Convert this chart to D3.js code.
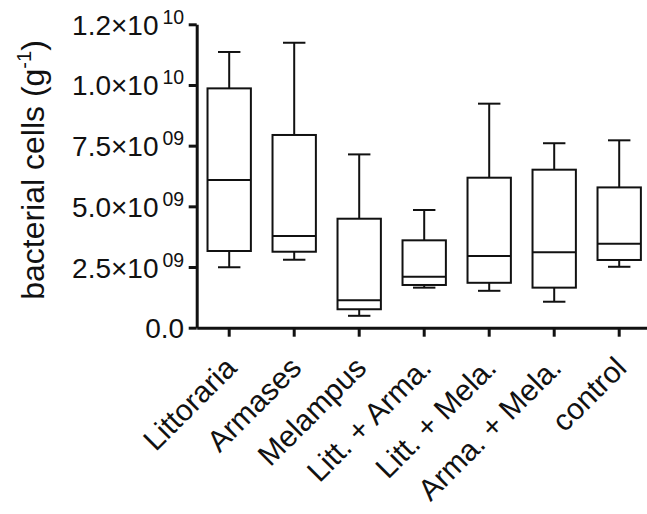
<!DOCTYPE html>
<html>
<head>
<meta charset="utf-8">
<script src="https://cdn.jsdelivr.net/npm/d3@7"></script>
<style>
  html, body { margin: 0; padding: 0; background: #fff; }
  svg { display: block; font-family: "Liberation Sans", Arial, Helvetica, sans-serif; }
</style>
</head>
<body>
<svg id="chart" width="647" height="514"></svg>
<script>
// ---- data (values in cells per gram) ----
const categories = ["Littoraria", "Armases", "Melampus", "Litt. + Arma.", "Litt. + Mela.", "Arma. + Mela.", "control"];
const whiskerMin = [2.49e9, 2.80e9, 0.49e9, 1.65e9, 1.52e9, 1.07e9, 2.51e9];
const quartile1  = [3.16e9, 3.13e9, 0.76e9, 1.76e9, 1.85e9, 1.65e9, 2.79e9];
const medians    = [6.09e9, 3.78e9, 1.13e9, 2.10e9, 2.95e9, 3.11e9, 3.46e9];
const quartile3  = [9.86e9, 7.94e9, 4.49e9, 3.60e9, 6.18e9, 6.51e9, 5.78e9];
const whiskerMax = [11.36e9, 11.74e9, 7.14e9, 4.85e9, 9.23e9, 7.60e9, 7.72e9];

const yTickValues = [0, 2.5e9, 5e9, 7.5e9, 10e9, 12.5e9];
const yTickMain   = ["0.0", "2.5×10", "5.0×10", "7.5×10", "1.0×10", "1.2×10"];
const yTickSup    = ["", "09", "09", "09", "10", "10"];
const yTitle = "bacterial cells (g";
const yTitleSup = "-1";
const yTitleEnd = ")";

// ---- layout ----
const svg = d3.select("#chart");
const plotLeft = 196.7, plotRight = 651.7, plotTop = 24.3, plotBottom = 327.7;

const x = d3.scaleBand().domain(categories).range([plotLeft, plotRight]).paddingInner(0).paddingOuter(0);
const y = d3.scaleLinear().domain([0, 12.5e9]).range([plotBottom, plotTop]);

const boxes = categories.map((c, i) => ({
  cat: c, min: whiskerMin[i], q1: quartile1[i], med: medians[i], q3: quartile3[i], max: whiskerMax[i]
}));

const boxW = x.bandwidth() * 0.667;
const capW = x.bandwidth() * 0.345;

const g = svg.append("g");
const bg = g.selectAll("g.box").data(boxes).enter().append("g").attr("class", "box")
  .attr("transform", d => `translate(${x(d.cat) + x.bandwidth() / 2},0)`);

const stroke = "#111";
const sw = 2;
// whiskers
bg.append("line").attr("x1", 0).attr("x2", 0).attr("y1", d => y(d.q3)).attr("y2", d => y(d.max))
  .attr("stroke", stroke).attr("stroke-width", sw);
bg.append("line").attr("x1", 0).attr("x2", 0).attr("y1", d => y(d.q1)).attr("y2", d => y(d.min))
  .attr("stroke", stroke).attr("stroke-width", sw);
bg.append("line").attr("x1", -capW / 2).attr("x2", capW / 2).attr("y1", d => y(d.max)).attr("y2", d => y(d.max))
  .attr("stroke", stroke).attr("stroke-width", sw);
bg.append("line").attr("x1", -capW / 2).attr("x2", capW / 2).attr("y1", d => y(d.min)).attr("y2", d => y(d.min))
  .attr("stroke", stroke).attr("stroke-width", sw);
// box
bg.append("rect").attr("x", -boxW / 2).attr("width", boxW)
  .attr("y", d => y(d.q3)).attr("height", d => y(d.q1) - y(d.q3))
  .attr("fill", "white").attr("stroke", stroke).attr("stroke-width", sw);
// median
bg.append("line").attr("x1", -boxW / 2).attr("x2", boxW / 2).attr("y1", d => y(d.med)).attr("y2", d => y(d.med))
  .attr("stroke", stroke).attr("stroke-width", sw);

// ---- y axis ----
const yAxis = svg.append("g").attr("transform", `translate(${plotLeft},0)`)
  .call(d3.axisLeft(y).tickValues(yTickValues).tickSize(8).tickSizeOuter(0).tickPadding(4.5));
yAxis.select(".domain").attr("stroke", "#111").attr("stroke-width", 3);
yAxis.selectAll(".tick line").attr("stroke", "#111").attr("stroke-width", 3);
yAxis.selectAll(".tick text").each(function (d, i) {
  const t = d3.select(this);
  t.text(null).attr("dy", null).attr("y", 10).attr("fill", "#111")
    .style("font-size", "28px").style("font-family", "'Liberation Sans', Arial, sans-serif");
  t.append("tspan").text(yTickMain[i]);
  if (yTickSup[i]) {
    t.append("tspan").text(yTickSup[i]).attr("dx", 4).attr("dy", -11).style("font-size", "19.5px");
  }
});

// ---- x axis ----
const xAxis = svg.append("g").attr("transform", `translate(0,${plotBottom})`)
  .call(d3.axisBottom(x).tickSize(9).tickSizeOuter(0));
xAxis.select(".domain").attr("stroke", "#111").attr("stroke-width", 3);
xAxis.selectAll(".tick line").attr("stroke", "#111").attr("stroke-width", 3);
xAxis.selectAll(".tick text")
  .attr("x", 0).attr("y", 0).attr("dy", null)
  .attr("text-anchor", "end").attr("fill", "#111")
  .attr("transform", "translate(9,42) rotate(-45)")
  .style("font-size", "30px").style("font-family", "'Liberation Sans', Arial, sans-serif");

// ---- y title ----
const yt = svg.append("text")
  .attr("transform", "translate(43.5,170) rotate(-90)")
  .attr("text-anchor", "middle").attr("fill", "#111")
  .style("font-size", "32px");
yt.append("tspan").text(yTitle);
yt.append("tspan").text(yTitleSup).attr("dy", -13).style("font-size", "20px");
yt.append("tspan").text(yTitleEnd).attr("dy", 13);
</script>
</body>
</html>
